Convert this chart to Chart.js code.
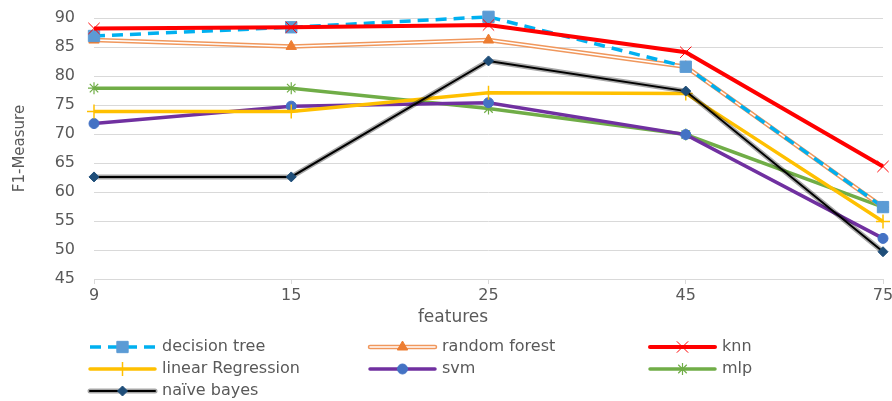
<!DOCTYPE html>
<html>
<head>
<meta charset="utf-8">
<script src="https://cdn.jsdelivr.net/npm/chart.js"></script>
<style>
  body { margin: 0; background: #fff; }
  #wrap { width: 892px; height: 401px; position: relative; }
</style>
</head>
<body>
<div id="wrap"><canvas id="f1Chart"></canvas></div>
<script>
const features = ['9', '15', '25', '45', '75'];
const decisionTree = [86.9, 88.4, 90.2, 81.6, 57.4];
const randomForest = [86.2, 85.1, 86.2, 81.6, 57.4];
const knn = [88.2, 88.4, 88.8, 84.1, 64.4];
const linearRegression = [73.9, 73.9, 77.1, 77.0, 54.9];
const svm = [71.8, 74.8, 75.4, 69.9, 52.0];
const mlp = [77.9, 77.9, 74.4, 69.9, 57.4];
const naiveBayes = [62.6, 62.6, 82.6, 77.4, 49.7];

const textColor = '#595959';
const fontFamily = '"DejaVu Sans", sans-serif';

// legend entries laid out in 3 columns like the excel original
const legendItems = [
  { label: 'decision tree', col: 0, row: 0, ds: 'dt' },
  { label: 'random forest', col: 1, row: 0, ds: 'rf' },
  { label: 'knn', col: 2, row: 0, ds: 'knn' },
  { label: 'linear Regression', col: 0, row: 1, ds: 'lr' },
  { label: 'svm', col: 1, row: 1, ds: 'svm' },
  { label: 'mlp', col: 2, row: 1, ds: 'mlp' },
  { label: 'naïve bayes', col: 0, row: 2, ds: 'nb' }
];

function drawMarker(ctx, d, x, y) {
  ctx.save();
  ctx.fillStyle = d.pointBackgroundColor;
  ctx.strokeStyle = d.pointBorderColor;
  ctx.lineWidth = d.pointBorderWidth || 1;
  Chart.helpers.drawPoint(ctx, {
    pointStyle: d.pointStyle,
    radius: d.pointRadius,
    rotation: 0,
    borderWidth: d.pointBorderWidth || 1
  }, x, y);
  ctx.restore();
}

function strokeSeg(ctx, x0, x1, y, color, width, dash) {
  ctx.save();
  ctx.strokeStyle = color;
  ctx.lineWidth = width;
  ctx.setLineDash(dash || []);
  ctx.lineCap = dash ? 'butt' : 'round';
  ctx.beginPath(); ctx.moveTo(x0, y); ctx.lineTo(x1, y); ctx.stroke();
  ctx.restore();
}

const legendPlugin = {
  id: 'customLegend',
  afterDraw(chart) {
    const ctx = chart.ctx;
    const byKey = {};
    chart.data.datasets.forEach(d => { byKey[d.key] = d; });
    const colX = [90, 370, 650];
    const rowY = [347, 369, 391];
    const lineLen = 65;

    ctx.save();
    // x axis title (excel centres it on the whole chart)
    ctx.font = '17px ' + fontFamily;
    ctx.fillStyle = textColor;
    ctx.textAlign = 'center';
    ctx.textBaseline = 'middle';
    ctx.fillText('features', 453, 318);

    legendItems.forEach(item => {
      const d = byKey[item.ds];
      const x0 = colX[item.col];
      const y = rowY[item.row];
      if (item.ds === 'rf') {
        strokeSeg(ctx, x0, x0 + lineLen, y, byKey.rfOuter.borderColor, 4.5);
        strokeSeg(ctx, x0, x0 + lineLen, y, '#ffffff', 1.5);
      } else {
        if (item.ds === 'nb') strokeSeg(ctx, x0, x0 + lineLen, y, byKey.nbHalo.borderColor, 5);
        strokeSeg(ctx, x0, x0 + lineLen, y, d.borderColor, d.borderWidth, d.borderDash);
      }
      drawMarker(ctx, d, x0 + lineLen / 2, y);
      ctx.font = '16px ' + fontFamily;
      ctx.fillStyle = textColor;
      ctx.textAlign = 'left';
      ctx.textBaseline = 'middle';
      ctx.fillText(item.label, x0 + lineLen + 7, y);
    });
    ctx.restore();
  }
};

function lineSet(key, label, data, color, width, extra) {
  return Object.assign({
    key: key,
    label: label,
    data: data,
    borderColor: color,
    borderWidth: width,
    fill: false,
    tension: 0,
    clip: false,
    pointRadius: 0,
    pointHoverRadius: 0
  }, extra);
}

const datasets = [
  lineSet('nb', 'naïve bayes', naiveBayes, '#000000', 2, {
    order: 1, pointStyle: 'rectRot', pointRadius: 5,
    pointBackgroundColor: '#1F4E79', pointBorderColor: '#1F4E79', pointBorderWidth: 1
  }),
  lineSet('nbHalo', '', naiveBayes, 'rgba(0,0,0,0.35)', 5, { order: 1.5 }),
  lineSet('knn', 'knn', knn, '#FF0000', 4, {
    order: 2, pointStyle: 'crossRot', pointRadius: 8,
    pointBackgroundColor: '#FF0000', pointBorderColor: '#FF0000', pointBorderWidth: 1
  }),
  lineSet('dt', 'decision tree', decisionTree, '#00B0F0', 3.5, {
    order: 3, borderDash: [11, 7], pointStyle: 'rect', pointRadius: 8,
    pointBackgroundColor: '#5B9BD5', pointBorderColor: '#5B9BD5', pointBorderWidth: 1
  }),
  lineSet('rf', 'random forest', randomForest, '#ffffff', 1.5, {
    order: 4, pointStyle: 'triangle', pointRadius: 6,
    pointBackgroundColor: '#ED7D31', pointBorderColor: '#ED7D31', pointBorderWidth: 1
  }),
  lineSet('rfOuter', '', randomForest, '#F0975C', 4.5, { order: 4.5 }),
  lineSet('lr', 'linear Regression', linearRegression, '#FFC000', 3.5, {
    order: 6, pointStyle: 'cross', pointRadius: 7,
    pointBackgroundColor: '#FFC000', pointBorderColor: '#FFC000', pointBorderWidth: 1.5
  }),
  lineSet('svm', 'svm', svm, '#7030A0', 3.5, {
    order: 7, pointStyle: 'circle', pointRadius: 5,
    pointBackgroundColor: '#4472C4', pointBorderColor: '#4472C4', pointBorderWidth: 1
  }),
  lineSet('mlp', 'mlp', mlp, '#70AD47', 3.5, {
    order: 8, pointStyle: 'star', pointRadius: 6,
    pointBackgroundColor: '#70AD47', pointBorderColor: '#70AD47', pointBorderWidth: 1.2
  })
];

const ctx = document.getElementById('f1Chart').getContext('2d');
new Chart(ctx, {
  type: 'line',
  data: { labels: features, datasets: datasets },
  options: {
    responsive: true,
    maintainAspectRatio: false,
    animation: false,
    layout: { padding: { top: 18, right: 7, bottom: 72, left: 0 } },
    plugins: {
      legend: { display: false },
      tooltip: { enabled: false }
    },
    scales: {
      x: {
        offset: false,
        grid: {
          drawOnChartArea: false,
          drawTicks: true,
          tickLength: 5,
          color: '#D9D9D9',
          lineWidth: 1
        },
        border: { display: true, color: '#D9D9D9', width: 1 },
        ticks: {
          color: textColor,
          font: { family: fontFamily, size: 16 },
          padding: 2,
          maxRotation: 0,
          autoSkip: false
        },
        afterFit(scale) {
          scale.height = 50;
          scale.paddingLeft = 0;
          scale.paddingRight = 0;
        }
      },
      y: {
        min: 45,
        max: 90,
        ticks: {
          stepSize: 5,
          color: textColor,
          font: { family: fontFamily, size: 16 },
          padding: 19
        },
        grid: { color: '#D9D9D9', drawTicks: false, lineWidth: 1 },
        border: { display: false },
        title: {
          display: true,
          text: 'F1-Measure',
          color: textColor,
          font: { family: fontFamily, size: 15 },
          padding: { top: 11, bottom: 0 }
        },
        afterFit(scale) {
          scale.width = 94;
          scale.paddingTop = 0;
          scale.paddingBottom = 0;
        }
      }
    }
  },
  plugins: [legendPlugin]
});
</script>
</body>
</html>
